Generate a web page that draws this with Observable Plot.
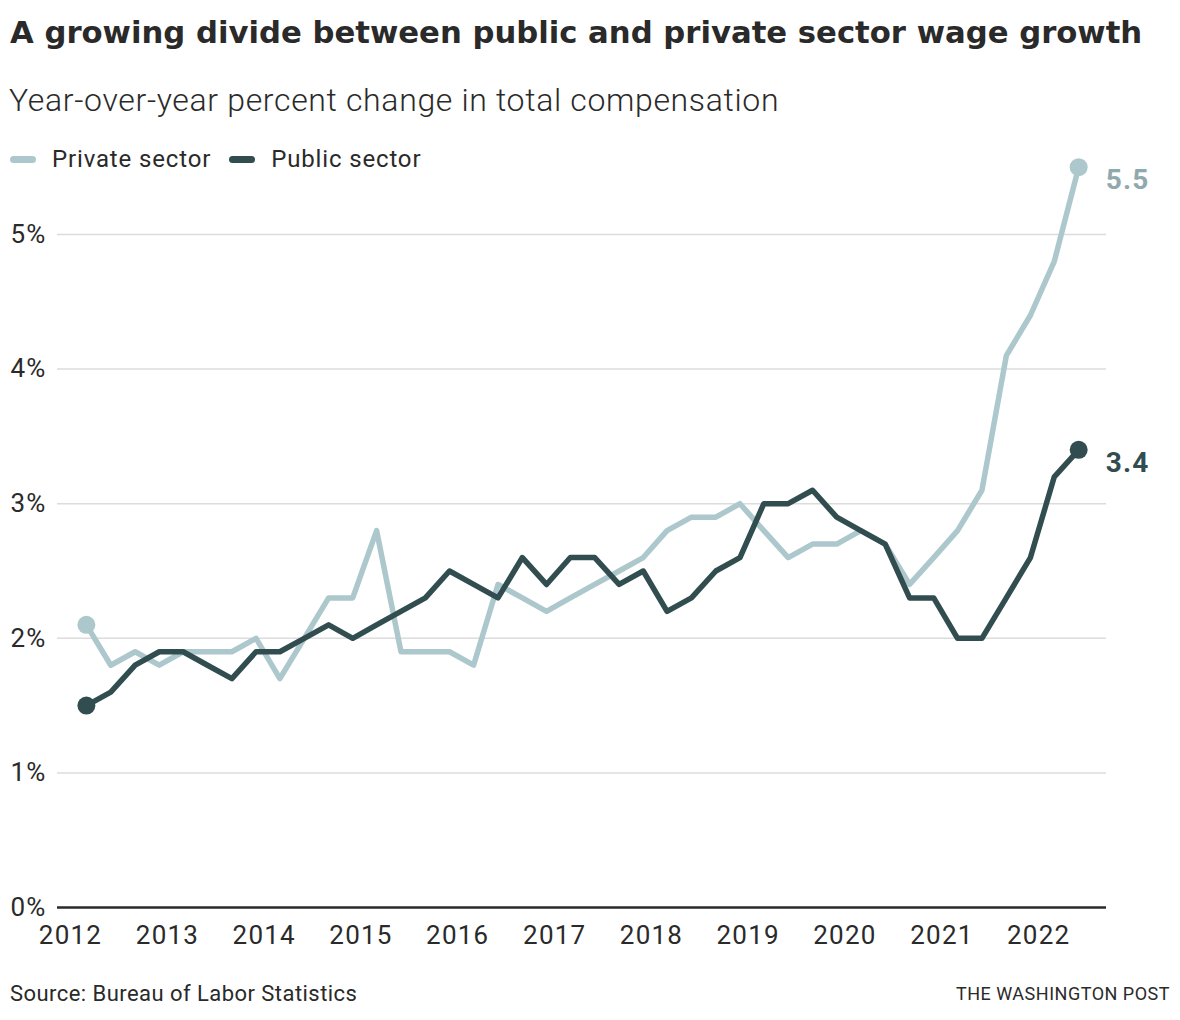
<!DOCTYPE html>
<html><head><meta charset="utf-8">
<script src="https://cdn.jsdelivr.net/npm/d3@7"></script>
<script src="https://cdn.jsdelivr.net/npm/@observablehq/plot@0.6"></script>
<style>
body{margin:0;background:#fff;font-family:Roboto,"Noto Sans",sans-serif;color:#2a2a2a;}
#wrap{position:relative;width:1180px;height:1020px;overflow:hidden;}
.abs{position:absolute;white-space:nowrap;line-height:1;}
#title{left:10px;top:18px;font-family:"DejaVu Sans",sans-serif;font-size:30.7px;font-weight:700;color:#2a2a2a;}
#subtitle{left:9px;top:84px;font-size:32px;font-weight:300;letter-spacing:0.65px;color:#2a2a2a;}
#legend{left:10px;top:147px;font-size:24px;letter-spacing:0.85px;color:#2a2a2a;display:flex;align-items:center;z-index:2;}
#legend .sw{display:inline-block;width:26px;height:7px;border-radius:4px;margin-right:16px;}
#legend .item{display:flex;align-items:center;margin-right:18px;}
#chart{position:absolute;left:0;top:120px;}
#source{left:10px;top:983px;font-size:22px;letter-spacing:0.45px;color:#2a2a2a;}
#credit{right:10px;top:985px;font-size:18px;letter-spacing:0.5px;color:#2a2a2a;}
</style>
</head><body>
<div id="wrap">
  <div id="title" class="abs">A growing divide between public and private sector wage growth</div>
  <div id="subtitle" class="abs">Year-over-year percent change in total compensation</div>
  <div id="legend" class="abs"></div>
  <div id="chart"></div>
  <div id="source" class="abs">Source: Bureau of Labor Statistics</div>
  <div id="credit" class="abs">THE WASHINGTON POST</div>
</div>
<script>
// Quarterly observations, 2012 Q1 through 2022 Q2 (plotted at the last month of each quarter)
const firstQuarter = new Date(Date.UTC(2012, 2, 1));
const seriesNames = ["Private sector", "Public sector"];
const seriesColors = ["#adc8cc", "#314d50"];
const labelColors = ["#8fa9ad", "#314d50"];
const privateSector = [2.1, 1.8, 1.9, 1.8, 1.9, 1.9, 1.9, 2.0, 1.7, 2.0, 2.3, 2.3, 2.8, 1.9, 1.9, 1.9, 1.8, 2.4, 2.3, 2.2, 2.3, 2.4, 2.5, 2.6, 2.8, 2.9, 2.9, 3.0, 2.8, 2.6, 2.7, 2.7, 2.8, 2.7, 2.4, 2.6, 2.8, 3.1, 4.1, 4.4, 4.8, 5.5];
const publicSector = [1.5, 1.6, 1.8, 1.9, 1.9, 1.8, 1.7, 1.9, 1.9, 2.0, 2.1, 2.0, 2.1, 2.2, 2.3, 2.5, 2.4, 2.3, 2.6, 2.4, 2.6, 2.6, 2.4, 2.5, 2.2, 2.3, 2.5, 2.6, 3.0, 3.0, 3.1, 2.9, 2.8, 2.7, 2.3, 2.3, 2.0, 2.0, 2.3, 2.6, 3.2, 3.4];
const tickYears = [2012, 2013, 2014, 2015, 2016, 2017, 2018, 2019, 2020, 2021, 2022];
const yTicks = [0, 1, 2, 3, 4, 5];

const rows = (vals, name) => vals.map((v, i) => ({date: d3.utcMonth.offset(firstQuarter, 3 * i), value: v, series: name}));
const privRows = rows(privateSector, seriesNames[0]);
const pubRows = rows(publicSector, seriesNames[1]);
const ends = (r) => [r[0], r[r.length - 1]];

// legend
const legend = document.getElementById("legend");
seriesNames.forEach((n, i) => {
  const it = document.createElement("span");
  it.className = "item";
  it.innerHTML = `<span class="sw" style="background:${seriesColors[i]}"></span>${n}`;
  legend.appendChild(it);
});

const chart = Plot.plot({
  width: 1180,
  height: 840,
  marginLeft: 57,
  marginRight: 74,
  marginTop: 114,
  marginBottom: 53,
  style: {fontFamily: "Roboto, sans-serif", fontSize: "26px", letterSpacing: "1.2px", color: "#2a2a2a", background: "transparent", overflow: "visible"},
  x: {
    type: "utc",
    domain: [new Date(Date.UTC(2011, 10, 13)), new Date(Date.UTC(2022, 8, 14))],
    ticks: tickYears.map(y => new Date(Date.UTC(y, 0, 1))),
    tickFormat: d3.utcFormat("%Y"),
    tickSize: 0,
    tickPadding: 18,
    label: null
  },
  y: {
    domain: [0, 5],
    ticks: yTicks,
    tickFormat: d => d + "%",
    tickSize: 0,
    tickPadding: 11,
    label: null
  },
  marks: [
    Plot.ruleY(yTicks.filter(d => d > 0), {stroke: "#dcdcdc", strokeWidth: 1.5}),
    Plot.ruleY([0], {stroke: "#2a2a2a", strokeWidth: 2.5}),
    Plot.lineY(privRows, {x: "date", y: "value", stroke: seriesColors[0], strokeWidth: 5.5}),
    Plot.dot(ends(privRows), {x: "date", y: "value", r: 9, fill: seriesColors[0]}),
    Plot.lineY(pubRows, {x: "date", y: "value", stroke: seriesColors[1], strokeWidth: 5.5}),
    Plot.dot(ends(pubRows), {x: "date", y: "value", r: 9, fill: seriesColors[1]}),
    Plot.text([privRows[privRows.length - 1]], {x: "date", y: "value", text: d => d.value.toFixed(1), dx: 27, dy: 13, textAnchor: "start", fontSize: 28, fontWeight: "bold", fill: labelColors[0]}),
    Plot.text([pubRows[pubRows.length - 1]], {x: "date", y: "value", text: d => d.value.toFixed(1), dx: 27, dy: 13, textAnchor: "start", fontSize: 28, fontWeight: "bold", fill: labelColors[1]})
  ]
});
document.getElementById("chart").appendChild(chart);
</script>
</body></html>
